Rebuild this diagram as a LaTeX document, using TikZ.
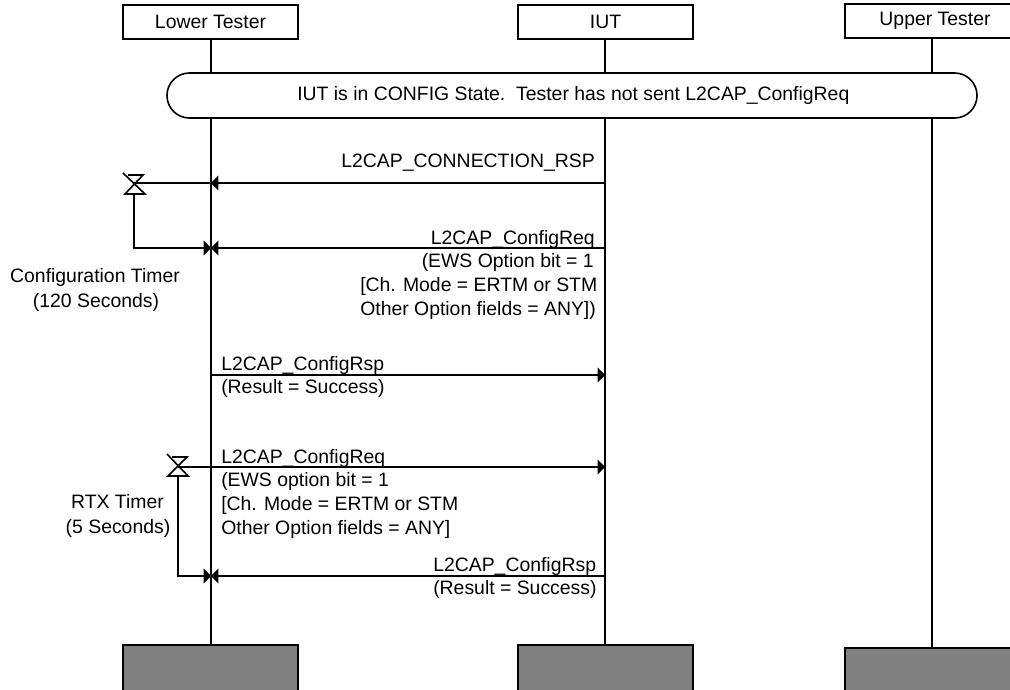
\documentclass[tikz,border=0pt]{standalone}
\usepackage{fontspec}
\setmainfont{Liberation Sans}
\usetikzlibrary{arrows.meta}
\tikzset{
  px/.style={x=0.75pt,y=-0.75pt},
  actor/.style={draw=black,line width=1.2pt,fill=white,minimum width=131.25pt,minimum height=25.5pt,inner sep=0pt,font=\fontsize{14.55}{17}\selectfont},
  grey/.style={draw=black,line width=1.2pt,fill=black!50},
  life/.style={line width=1.6pt,black},
  msg/.style={line width=1.2pt,black,-{Triangle[length=5.5pt,width=11pt]}},
  tline/.style={line width=1.2pt,black},
  lab/.style={inner sep=0pt,font=\fontsize{14.55}{17}\selectfont},
  lw/.style={lab,anchor=base west},
  lc/.style={lab,anchor=base}
}
\pgfdeclarelayer{back}\pgfsetlayers{back,main}
\begin{document}
\begin{tikzpicture}[px]
\useasboundingbox (0,0) rectangle (1010,689);
\clip (0,0) rectangle (1010,689);
% actors
\node[actor] (lt) at (210.5,22) {Lower Tester};
\node[actor] (iut) at (605.5,22) {IUT};
\node[actor,minimum width=135pt] (ut) at (935,21) {Upper Tester};
% bottom blocks
\draw[grey] (123,645) rectangle (298,700);
\draw[grey] (518,645) rectangle (693,700);
\draw[grey] (845,648) rectangle (1020,700);
\coordinate (ltb) at (211,645);
\coordinate (iutb) at (605,645);
\coordinate (utb) at (932,648);
\begin{pgfonlayer}{back}
\draw[life] (211,39) -- (ltb);
\draw[life] (605,39) -- (iutb);
\draw[life] (932,38) -- (utb);
\end{pgfonlayer}
% state pill
\node[draw=black,line width=1.2pt,fill=white,rounded corners=16.8pt,minimum width=607.5pt,minimum height=33.75pt,inner sep=0pt,font=\fontsize{14.55}{17}\selectfont] (st) at (572,95.5) {\hspace*{2pt}\raisebox{-1pt}{IUT is in CONFIG State.\ \ Tester has not sent L2CAP\_ConfigReq}};
% message anchors
\coordinate (l1) at (211,183); \coordinate (i1) at (605,183);
\coordinate (l2) at (211,248); \coordinate (i2) at (605,248);
\coordinate (l3) at (211,375); \coordinate (i3) at (605,375);
\coordinate (l4) at (178,467); \coordinate (i4) at (605,467);
\coordinate (l5) at (211,576); \coordinate (i5) at (605,576);
% timer 1
\coordinate (t1) at (134,183);
\draw[msg] (i1) -- (l1);
\draw[tline] (l1) -- (t1);
\draw[msg] (i2) -- (l2);
\coordinate (t1b) at (134,194);
\draw[msg] (t1b) |- (l2);
\draw[tline] (128,175) -- (143,175) -- (125,194) -- (145,194) -- (123,173);
% timer 2
\draw[msg] (l3) -- (i3);
\draw[msg] (l4) -- (i4);
\draw[msg] (i5) -- (l5);
\coordinate (t2b) at (178,476);
\draw[msg] (t2b) |- (l5);
\draw[tline] (172,457) -- (187,457) -- (168,476) -- (188,476) -- (167,454);
% labels
\node[lab,anchor=base east] (a1) at (595,167) {L2CAP\_CONNECTION\_RSP};
\node[lab,anchor=base east] (a2) at (595,244) {L2CAP\_ConfigReq};
\node[lab,anchor=base east] (a3) at (594,267) {(EWS Option bit = 1};
\node[lw] (a4) at (360,291) {[Ch. Mode = ERTM or STM};
\node[lw] (a5) at (360,315) {Other Option fields = ANY])};
\node[lw] (b1) at (221,370) {L2CAP\_ConfigRsp};
\node[lw] (b2) at (221,393) {(Result = Success)};
\node[lw] (c1) at (221,463) {L2CAP\_ConfigReq};
\node[lw] (c2) at (221,486) {(EWS option bit = 1};
\node[lw] (c3) at (221,510) {[Ch. Mode = ERTM or STM};
\node[lw] (c4) at (221,534) {Other Option fields = ANY]};
\node[lw] (d1) at (433,571) {L2CAP\_ConfigRsp};
\node[lw] (d2) at (433,594) {(Result = Success)};
\node[lc] (e1) at (95,282) {Configuration Timer};
\node[lc] (e2) at (96,307) {(120 Seconds)};
\node[lc] (f1) at (117.5,508) {RTX Timer};
\node[lc] (f2) at (118,533) {(5 Seconds)};
\end{tikzpicture}
\end{document}
